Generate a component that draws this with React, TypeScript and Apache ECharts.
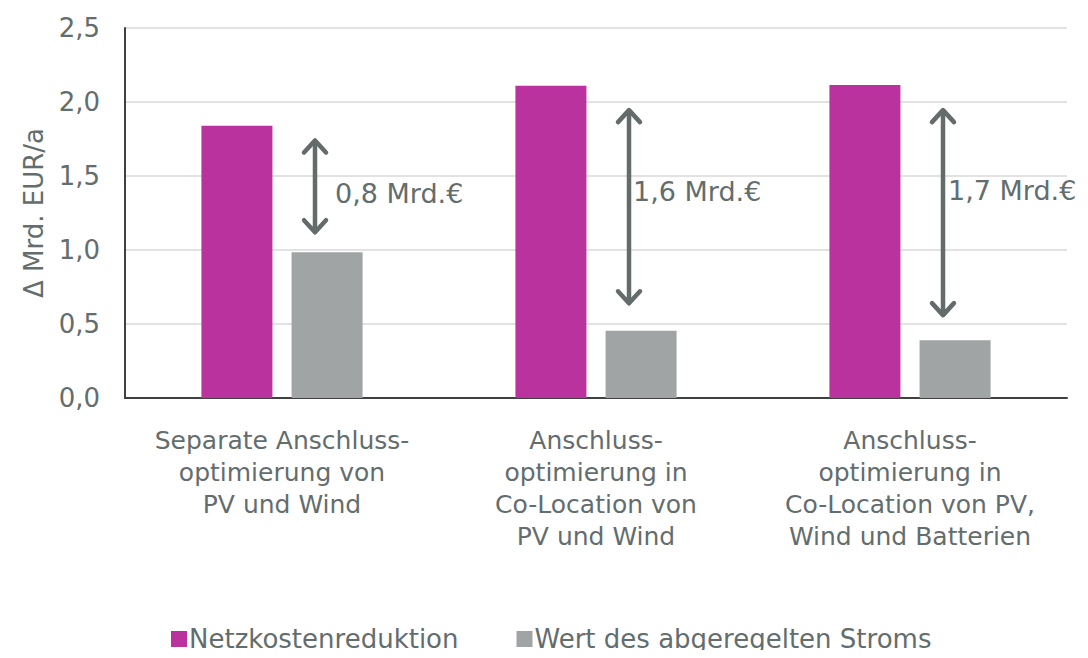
import React, { useEffect, useRef } from "react";
import * as echarts from "echarts";

const categories = [
  "Separate Anschluss-\noptimierung von\nPV und Wind",
  "Anschluss-\noptimierung in\nCo-Location von\nPV und Wind",
  "Anschluss-\noptimierung in\nCo-Location von PV,\nWind und Batterien",
];
const seriesNames = ["Netzkostenreduktion", "Wert des abgeregelten Stroms"];
const netzkosten = [1.84, 2.11, 2.115];
const abgeregelt = [0.985, 0.455, 0.39];
// arrows: [categoryIndex, topValue, bottomValue, labelValue]
const arrowTop = [1.74, 1.945, 1.945];
const arrowBottom = [1.12, 0.64, 0.56];
const arrowLabelY = [1.38, 1.395, 1.4];
const arrowLabels = ["0,8 Mrd.€", "1,6 Mrd.€", "1,7 Mrd.€"];
const yTicks = [0, 0.5, 1.0, 1.5, 2.0, 2.5];

const FONT = "DejaVu Sans";
const TEXT = "#636d6d";
const ARROW = "#636b6b";

export default function App() {
  const ref = useRef<HTMLDivElement>(null);
  useEffect(() => {
    if (!ref.current) return;
    const chart = echarts.init(ref.current, undefined, { renderer: "svg" });
    const labelDx = [20, 4, 5];
    const arrowData = categories.map((_, i) => [i, arrowTop[i], arrowBottom[i], arrowLabelY[i]]);
    chart.setOption({
      animation: false,
      textStyle: { fontFamily: FONT },
      grid: { left: 125, right: 21, top: 28, bottom: 260, containLabel: false },
      legend: {
        top: 621,
        left: 166,
        itemWidth: 16,
        itemHeight: 16,
        itemGap: 58,
        icon: "rect",
        textStyle: { fontFamily: FONT, fontSize: 26, color: TEXT, padding: [0, 0, 0, -3] },
        data: seriesNames,
      },
      xAxis: {
        type: "category",
        data: categories,
        axisLine: { lineStyle: { color: "#404040", width: 2 } },
        axisTick: { show: false },
        axisLabel: {
          fontFamily: FONT,
          fontSize: 25,
          color: TEXT,
          lineHeight: 32,
          margin: 26,
          interval: 0,
        },
      },
      yAxis: {
        type: "value",
        min: 0,
        max: 2.5,
        interval: 0.5,
        name: "Δ Mrd. EUR/a",
        nameLocation: "middle",
        nameGap: 78,
        nameRotate: 90,
        nameTextStyle: { fontFamily: FONT, fontSize: 26, color: TEXT },
        axisLine: { show: true, lineStyle: { color: "#404040", width: 2 } },
        axisTick: { show: false },
        splitLine: { lineStyle: { color: "#d9d9d9", width: 1.5 } },
        axisLabel: {
          fontFamily: FONT,
          fontSize: 26,
          color: TEXT,
          margin: 25,
          formatter: (v: number) =>
            yTicks.includes(v) ? v.toFixed(1).replace(".", ",") : "",
        },
      },
      series: [
        {
          name: seriesNames[0],
          type: "bar",
          data: netzkosten,
          barWidth: 71,
          barGap: "27%",
          itemStyle: { color: "#b9329e" },
        },
        {
          name: seriesNames[1],
          type: "bar",
          data: abgeregelt,
          barWidth: 71,
          barGap: "27%",
          itemStyle: { color: "#a1a4a4" },
        },
        {
          type: "custom",
          silent: true,
          clip: false,
          z: 10,
          data: arrowData,
          renderItem: (params: any, api: any) => {
            const i = api.value(0);
            const t = api.coord([i, api.value(1)]);
            const b = api.coord([i, api.value(2)]);
            const l = api.coord([i, api.value(3)]);
            const x = t[0] + 33;
            const hw = 11;
            const hh = 12;
            const style = {
              stroke: ARROW,
              lineWidth: 4.5,
              lineCap: "round",
              lineJoin: "round",
              fill: null,
            };
            return {
              type: "group",
              children: [
                { type: "line", shape: { x1: x, y1: t[1] + 2, x2: x, y2: b[1] - 2 }, style },
                {
                  type: "polyline",
                  shape: { points: [[x - hw, t[1] + hh], [x, t[1]], [x + hw, t[1] + hh]] },
                  style,
                },
                {
                  type: "polyline",
                  shape: { points: [[x - hw, b[1] - hh], [x, b[1]], [x + hw, b[1] - hh]] },
                  style,
                },
                {
                  type: "text",
                  x: x + labelDx[params.dataIndex],
                  y: l[1],
                  style: {
                    text: arrowLabels[params.dataIndex],
                    fontFamily: FONT,
                    fontSize: 27,
                    fill: TEXT,
                    verticalAlign: "middle",
                    align: "left",
                  },
                },
              ],
            };
          },
        },
      ],
    });
    return () => chart.dispose();
  }, []);
  return <div ref={ref} style={{ width: 1088, height: 658, margin: -8 }} />;
}
